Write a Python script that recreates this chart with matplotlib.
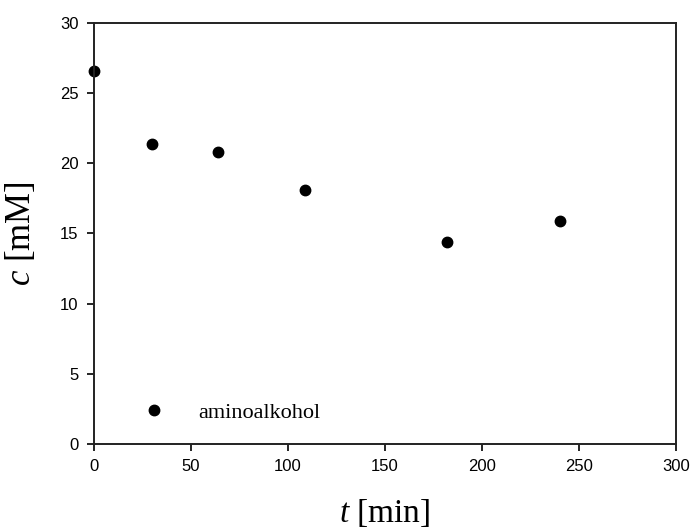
import matplotlib
matplotlib.use("Agg")
import matplotlib.pyplot as plt

# data
t_min = [0, 30, 64, 109, 182, 240]
c_mM = [26.6, 21.4, 20.8, 18.1, 14.4, 15.9]
series_name = "aminoalkohol"

x_ticks = [0, 50, 100, 150, 200, 250, 300]
y_ticks = [0, 5, 10, 15, 20, 25, 30]

plt.rcParams["mathtext.fontset"] = "custom"
plt.rcParams["mathtext.it"] = "Liberation Serif:italic"
plt.rcParams["mathtext.rm"] = "Liberation Serif"

fig = plt.figure(figsize=(6.93, 5.32), dpi=100)
ax = fig.add_axes([0.1356, 0.1654, 0.84, 0.7914])

ax.plot(t_min, c_mM, linestyle="none", marker="o", markersize=7.5,
        color="black", clip_on=False, label=series_name)

ax.set_xlim(0, 300)
ax.set_ylim(0, 30)
ax.set_xticks(x_ticks)
ax.set_yticks(y_ticks)
ax.tick_params(direction="out", length=5, width=1.2, labelsize=12, pad=6)
for lab in ax.get_xticklabels() + ax.get_yticklabels():
    lab.set_family("Liberation Sans")
for s in ax.spines.values():
    s.set_linewidth(1.4)
    s.set_color("#222222")

ax.set_xlabel(r"$t$ [min]", fontsize=24, family="Liberation Serif", labelpad=16)
ax.set_ylabel(r"$c$ [mM]", fontsize=25, family="Liberation Serif", labelpad=16)

leg = ax.legend(loc="center left", bbox_to_anchor=(0.05, 0.075), frameon=False,
                prop={"family": "Liberation Serif", "size": 16},
                handletextpad=1.5, handlelength=1.0)

fig.savefig("out.png", dpi=100)
